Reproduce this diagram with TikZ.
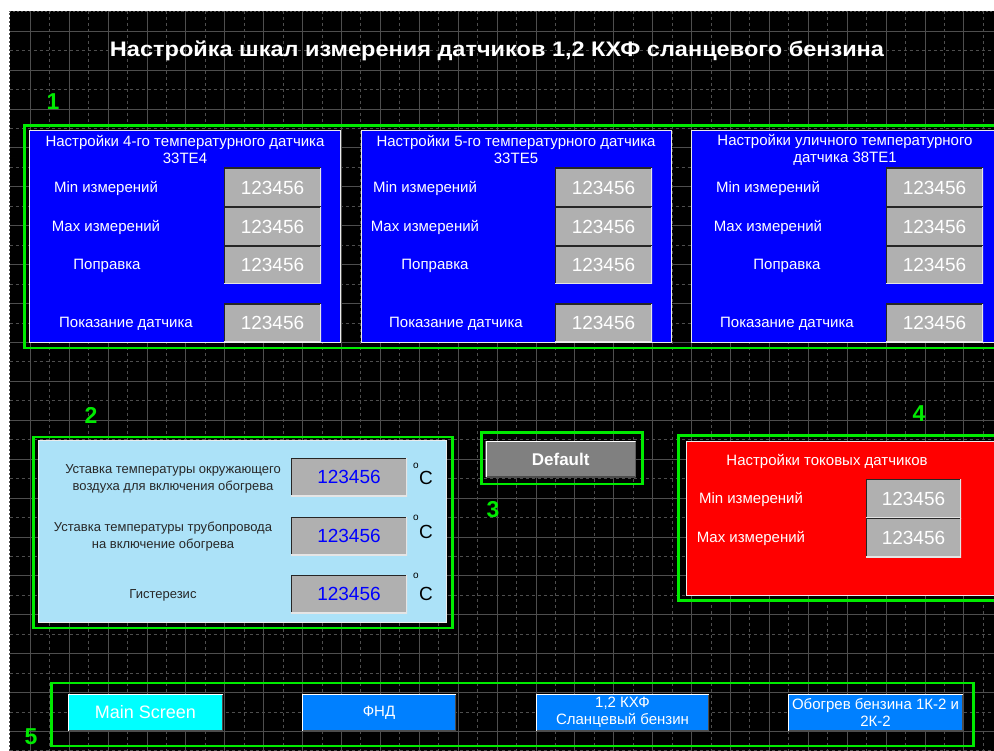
\documentclass[tikz,border=0pt]{standalone}
\usepackage{fontspec}
\usepackage{graphicx}
\setmainfont{Liberation Sans}
\definecolor{hmigreen}{RGB}{0,235,0}
\definecolor{hmiblue}{RGB}{0,0,255}
\definecolor{hmigray}{RGB}{176,176,176}
\definecolor{hmisky}{RGB}{172,226,248}
\definecolor{hmired}{RGB}{255,0,0}
\definecolor{hminav}{RGB}{0,128,255}
\definecolor{hmicyan}{RGB}{0,255,255}
\definecolor{hmidark}{RGB}{40,40,40}
\definecolor{gridline}{RGB}{78,78,78}
\tikzset{
  box/.style={rectangle, anchor=north west, inner sep=0pt, outer sep=0pt},
  grpframe/.style={box, draw=hmigreen, line width=2.7pt},
  grpnum/.style={text=hmigreen, font=\fontsize{23}{23}\selectfont\bfseries},
  bluepanel/.style={box, fill=hmiblue, draw=white!85!gray, line width=1pt},
  lbl/.style={text=white, font=\fontsize{15}{17}\selectfont, align=center},
  sunken/.style={path picture={
      \draw[line width=2.4pt, black!85] (path picture bounding box.south west) |- (path picture bounding box.north east);
      \draw[line width=2.4pt, white!80!gray] (path picture bounding box.south west) -| (path picture bounding box.north east);}},
  raised/.style={path picture={
      \draw[line width=2.4pt, black!70] (path picture bounding box.south west) -| (path picture bounding box.north east);
      \draw[line width=2.4pt, white] (path picture bounding box.south west) |- (path picture bounding box.north east);}},
  valbox/.style={box, sunken, fill=hmigray, minimum width=97pt, minimum height=39pt,
      text=white, font=\fontsize{19}{19}\selectfont},
  navbtn/.style={box, raised, minimum height=37pt, text=white, align=center},
}
\begin{document}
\begin{tikzpicture}[x=1pt, y=-1pt]
  \useasboundingbox (0,0) rectangle (994,751);
  \clip (0,0) rectangle (994,751);
  % black work area with the editor grid
  \fill[black] (9.5,11) rectangle (994,751);
  \draw[gridline, dash pattern=on 2pt off 2pt] (9.5,751) |- (994,11);
  \foreach \i in {0,...,24}{
    \draw[gridline] ({30+38.9*\i},11) -- +(0,740);
    \draw[gridline, dash pattern=on 3pt off 3pt] ({49.45+38.9*\i},11) -- +(0,740);
  }
  \foreach \j in {0,...,18}{
    \draw[gridline] (9.5,{31+38.9*\j}) -- +(985,0);
    \draw[gridline, dash pattern=on 3pt off 3pt] (9.5,{50.45+38.9*\j}) -- +(985,0);
  }

  \node[text=white, font=\fontsize{21}{21}\selectfont\bfseries] (title) at (497,51)
    {\scalebox{1.12}[1]{Настройка шкал измерения датчиков 1,2 КХФ сланцевого бензина}};

  % 1: temperature sensor scales
  \node[grpnum] (n1) at (53,102) {1};
  \node[grpframe, minimum width=985pt, minimum height=222.7pt] (g1) at (24.7,125.3) {};
  \foreach \n/\pl/\pw/\bx/\ttl/\xa/\xb/\xc in {
      1/29.3/311.4/224/{Настройки 4-го температурного датчика\\33TE4}/106/107/126,
      2/361/310/555/{Настройки 5-го температурного датчика\\33TE5}/425/435/456,
      3/691/308/886/{Настройки уличного температурного\\датчика 38TE1}/768/787/787}{
    \node[bluepanel, minimum width=\pw pt, minimum height=211.5pt] (p\n) at (\pl,130.7) {};
    \node[lbl] (p\n-title) at ({\pl+\pw/2},149.5) {\ttl};
    \node[lbl] (p\n-min) at (\xa,188) {Min измерений};
    \node[lbl] (p\n-max) at (\xa,227) {Max измерений};
    \node[lbl] (p\n-corr) at (\xb,266) {Поправка};
    \node[lbl] (p\n-read) at (\xc,324) {Показание датчика};
    \foreach \r/\yy/\hh in {1/168/39, 2/207/39, 3/246/38, 4/304/38}
      \node[valbox, minimum height=\hh pt] (p\n-v\r) at (\bx,\yy) {123456};
  }

  % 2: heating set points
  \node[grpnum] (n2) at (91,415) {2};
  \node[grpframe, minimum width=419pt, minimum height=191pt] (g2) at (33.7,437) {};
  \node[box, fill=hmisky, draw=white!85!gray, line width=1pt,
        minimum width=408.4pt, minimum height=181.6pt] (sp) at (38.3,440.7) {};
  \foreach \r/\xx/\yy/\ttl in {
      1/173/478.5/{Уставка температуры окружающего\\воздуха для включения обогрева},
      2/163/536.5/{Уставка температуры трубопровода\\на включение обогрева},
      3/163/595/{Гистерезис}}
    \node[text=hmidark, font=\fontsize{13}{17}\selectfont, align=center] (sp-l\r) at (\xx,\yy) {\ttl};
  \foreach \r/\yy/\oy/\cy in {1/458/466/478, 2/517/518/532, 3/575/576/594}{
    \node[valbox, minimum width=116pt, minimum height=38pt, text=hmiblue] (sp-v\r) at (291,\yy) {123456};
    \node[font=\fontsize{10}{10}\selectfont] (sp-o\r) at (416,\oy) {o};
    \node[font=\fontsize{19}{19}\selectfont] (sp-c\r) at (426,\cy) {C};
  }

  % 3: default button
  \node[grpnum] (n3) at (493,510) {3};
  \node[grpframe, minimum width=161.5pt, minimum height=51.3pt] (g3) at (481.3,432.7) {};
  \node[box, raised, fill=gray, minimum width=150pt, minimum height=36.3pt,
        text=white, font=\fontsize{17}{17}\selectfont\bfseries] (dflt) at (485.7,441) {Default};

  % 4: current sensors
  \node[grpnum] (n4) at (919,414) {4};
  \node[grpframe, minimum width=330pt, minimum height=165.4pt] (g4) at (678.7,435.3) {};
  \node[box, fill=hmired, draw=white!85!gray, line width=1pt,
        minimum width=320pt, minimum height=154.7pt] (cur) at (686,441) {};
  \node[lbl] (cur-title) at (827,461) {Настройки токовых датчиков};
  \node[lbl] (cur-min) at (751,499) {Min измерений};
  \node[lbl] (cur-max) at (751,538) {Max измерений};
  \node[valbox, minimum width=95pt] (cur-v1) at (866,479) {123456};
  \node[valbox, minimum width=95pt] (cur-v2) at (866,518) {123456};

  % 5: screen navigation
  \node[grpnum] (n5) at (31,737) {5};
  \node[grpframe, minimum width=921.9pt, minimum height=63pt] (g5) at (51.3,683) {};
  \foreach \n/\bx/\bw/\fc/\fs/\txt in {
      1/68/155/hmicyan/18/{Main Screen},
      2/302/154/hminav/15/{ФНД},
      3/536/173/hminav/15/{1,2 КХФ\\Сланцевый бензин},
      4/788/175/hminav/15/{Обогрев бензина 1К-2 и\\2К-2}}
    \node[navbtn, fill=\fc, minimum width=\bw pt, font=\fontsize{\fs}{17}\selectfont] (nav\n) at (\bx,694) {\txt};
\end{tikzpicture}
\end{document}
